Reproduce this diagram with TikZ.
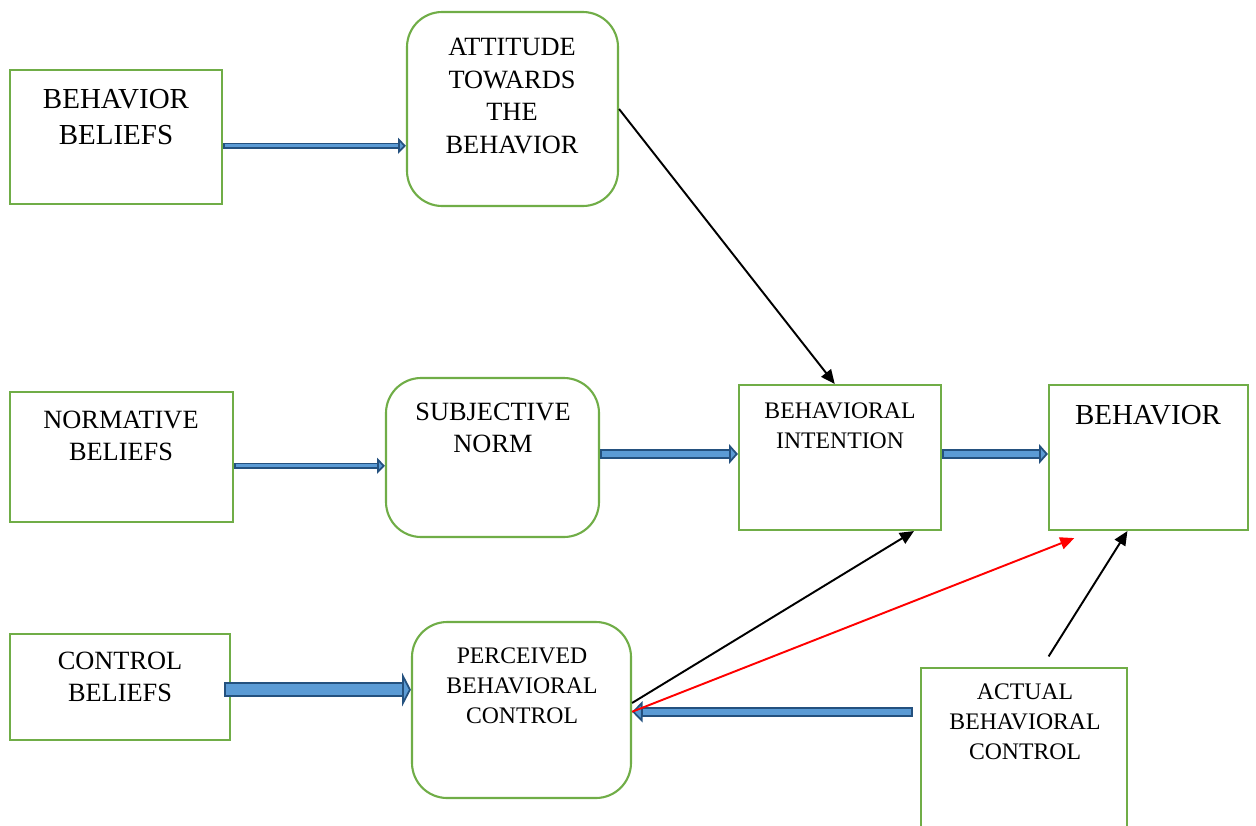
\documentclass[tikz,border=0pt]{standalone}
\usepackage{fontspec}
\setmainfont{Liberation Serif}
\usetikzlibrary{arrows.meta}
\definecolor{boxgreen}{HTML}{70AD47}
\definecolor{arrowfill}{HTML}{5B9BD5}
\definecolor{arrowedge}{HTML}{24517F}
\newcommand\px{0.02cm}
\tikzset{
  sqbox/.style={draw=boxgreen, line width=1.2pt, inner sep=0pt},
  rndbox/.style={sqbox, rounded corners=20pt},
  bigtxt/.style={align=center, font=\fontsize{16.5}{20}\selectfont},
  midtxt/.style={align=center, font=\fontsize{15}{18.6}\selectfont},
  smalltxt/.style={align=center, font=\fontsize{13.5}{17.2}\selectfont},
  blockarrow/.style n args={3}{line width=#1, draw=arrowedge,
    -{Triangle[length=#2, width=#3, fill=arrowfill, line width=1pt]},
    postaction={draw=arrowfill, line width=#1-2pt, -, shorten >=#2, shorten <=1pt}},
  plainarrow/.style={line width=1.1pt, -{Triangle[length=8pt, width=7pt]}}
}
\begin{document}
\begin{tikzpicture}[x=0.02cm, y=-0.02cm]
  \useasboundingbox (0,0) rectangle (1256,825);
  \clip (0,0) rectangle (1256,825);
  % Belief boxes on the left
  \node[sqbox, minimum width=212*\px, minimum height=134*\px] (bb) at (116,137) {};
  \node[sqbox, minimum width=223*\px, minimum height=130*\px] (nb) at (121.5,457) {};
  \node[sqbox, minimum width=220*\px, minimum height=106*\px] (cb) at (120,687) {};
  % Rounded middle boxes
  \node[rndbox, minimum width=211*\px, minimum height=194*\px] (att) at (512.5,109) {};
  \node[rndbox, minimum width=213*\px, minimum height=159*\px] (sn) at (492.5,457.5) {};
  \node[rndbox, minimum width=219*\px, minimum height=176*\px] (pbc) at (521.5,710) {};
  % Intention, behavior and actual control
  \node[sqbox, minimum width=202*\px, minimum height=145*\px] (bi) at (840,457.5) {};
  \node[sqbox, minimum width=199*\px, minimum height=145*\px] (beh) at (1148.5,457.5) {};
  \node[sqbox, minimum width=206*\px, minimum height=192*\px] (abc) at (1024,764) {};
  % Box texts
  \node[bigtxt] (bbt) at (116,117) {BEHAVIOR\\BELIEFS};
  \node[midtxt] (nbt) at (121,436) {NORMATIVE\\BELIEFS};
  \node[midtxt] (cbt) at (120,677) {CONTROL\\BELIEFS};
  \node[midtxt] (attt) at (512,96) {ATTITUDE\\TOWARDS\\THE\\BEHAVIOR};
  \node[midtxt] (snt) at (493,428) {SUBJECTIVE\\NORM};
  \node[smalltxt] (pbct) at (522,686) {PERCEIVED\\BEHAVIORAL\\CONTROL};
  \node[smalltxt] (bit) at (840,426) {BEHAVIORAL\\INTENTION};
  \node[bigtxt] (beht) at (1148,415) {BEHAVIOR};
  \node[smalltxt] (abct) at (1025,722) {ACTUAL\\BEHAVIORAL\\CONTROL};
  % Block arrows
  \draw[blockarrow={3.6pt}{4.5pt}{9pt}] ([yshift=-5pt]bb.east) -- ([yshift=-5pt]bb.east -| att.west);
  \draw[blockarrow={3.6pt}{4.5pt}{9pt}] ([yshift=-5pt]nb.east) -- ([yshift=-5pt]nb.east -| sn.west);
  \draw[blockarrow={5.7pt}{5pt}{11pt}] ([yshift=2pt]sn.east) -- ([yshift=2pt]sn.east -| bi.west);
  \draw[blockarrow={5.7pt}{5pt}{11pt}] ([yshift=2pt]bi.east) -- ([yshift=2pt]bi.east -| beh.west);
  \draw[blockarrow={8.2pt}{5pt}{19pt}] ([xshift=-4pt,yshift=-1.5pt]cb.east) -- ([yshift=-1.5pt]cb.east -| pbc.west);
  \draw[blockarrow={5.7pt}{6pt}{12pt}] ([xshift=-4pt,yshift=-1pt]pbc.east -| abc.west) -- ([yshift=-1pt]pbc.east);
  % Line arrows
  \draw[plainarrow] (att.east) -- ([xshift=-3pt]bi.north);
  \draw[plainarrow] ([yshift=4pt]pbc.east) -- ([xshift=-16pt]bi.south east);
  \draw[plainarrow, red] ([yshift=-1pt]pbc.east) -- ([xshift=15pt,yshift=-4pt]beh.south west);
  \draw[plainarrow] ([xshift=14pt,yshift=6pt]abc.north) -- ([xshift=-12pt]beh.south);
\end{tikzpicture}
\end{document}
